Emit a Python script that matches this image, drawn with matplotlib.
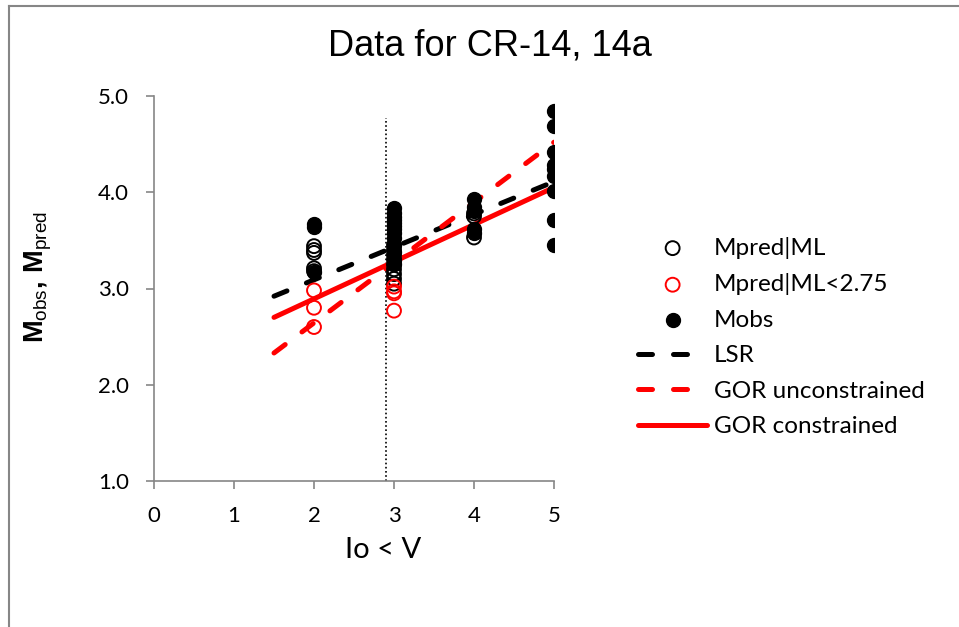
import matplotlib.pyplot as plt
from matplotlib.lines import Line2D

# == Datos ==
x_pred_ml = [2, 2, 2, 2, 2, 3, 3, 3, 3, 3, 3, 3, 3, 3, 4, 4, 4]
y_pred_ml = [3.44, 3.40, 3.37, 3.21, 3.18,
             3.45, 3.40, 3.35, 3.30, 3.25, 3.20, 3.15, 3.10, 3.05,
             3.78, 3.75, 3.53]

x_pred_low = [2, 2, 2, 3, 3, 3, 3]
y_pred_low = [2.98, 2.80, 2.60, 3.02, 2.97, 2.95, 2.77]

x_obs = [2, 2, 2,
         3, 3, 3, 3, 3, 3, 3, 3, 3, 3, 3, 3, 3,
         4, 4, 4, 4, 4,
         5, 5, 5, 5, 5, 5, 5, 5, 5]
y_obs = [3.67, 3.64, 3.17,
         3.84, 3.78, 3.74, 3.71, 3.68, 3.65, 3.62, 3.58, 3.52, 3.45, 3.38, 3.30, 3.25,
         3.93, 3.85, 3.81, 3.62, 3.58,
         4.84, 4.69, 4.42, 4.28, 4.24, 4.17, 4.01, 3.71, 3.45]

# rectas de ajuste (extremos en x = 1.5 y x = 5)
x_fit = [1.5, 5.0]
y_lsr = [2.92, 4.11]
y_gor_unc = [2.33, 4.52]
y_gor_con = [2.70, 4.05]

# línea vertical punteada
x_corte = 2.9
y_corte = [1.0, 4.77]

x_ticks = [0, 1, 2, 3, 4, 5]
y_ticks = [1.0, 2.0, 3.0, 4.0, 5.0]

GRIS = "#868686"
FUENTE = "Lato"

plt.rcParams["mathtext.fontset"] = "custom"
plt.rcParams["mathtext.rm"] = "Liberation Sans"
plt.rcParams["mathtext.bf"] = "Liberation Sans:bold"

fig = plt.figure(figsize=(9.59, 6.27), dpi=100)
ax = fig.add_axes([154 / 959, 1 - 481 / 627, 400 / 959, 385 / 627])

dash = (2.8, 4.2)
ax.plot(x_fit, y_lsr, color="black", lw=3.6, dashes=dash, dash_capstyle="round",
        label="LSR", zorder=3)
ax.plot(x_fit, y_gor_unc, color="red", lw=3.6, dashes=dash, dash_capstyle="round",
        label="GOR unconstrained", zorder=3)
ax.plot(x_fit, y_gor_con, color="red", lw=3.6, solid_capstyle="round",
        label="GOR constrained", zorder=3)

ax.plot([x_corte, x_corte], y_corte, color="black", lw=1.2, ls=(0, (1, 1.5)), zorder=2)

ax.scatter(x_obs, y_obs, s=100, color="black", label="Mobs", zorder=4)
ax.scatter(x_pred_ml, y_pred_ml, s=100, facecolor="none", edgecolor="black",
           linewidth=1.4, label="Mpred|ML", zorder=5)
ax.scatter(x_pred_low, y_pred_low, s=100, facecolor="none", edgecolor="red",
           linewidth=1.4, label="Mpred|ML<2.75", zorder=5)

ax.set_xlim(0, 5)
ax.set_ylim(1, 5)
ax.set_xticks(x_ticks)
ax.set_yticks(y_ticks)
ax.set_xticklabels([str(v) for v in x_ticks], fontfamily=FUENTE, fontsize=16)
ax.set_yticklabels([f"{v:.1f}" for v in y_ticks], fontfamily=FUENTE, fontsize=16)
ax.tick_params(direction="out", length=6, width=1.2, color=GRIS, pad=12)
for lado in ["top", "right"]:
    ax.spines[lado].set_visible(False)
for lado in ["left", "bottom"]:
    ax.spines[lado].set_color(GRIS)
    ax.spines[lado].set_linewidth(1.2)
ax.set_clip_on(False)

ax.set_xlabel("Io < V", fontfamily=FUENTE, fontsize=21, va="top")
ax.xaxis.set_label_coords(0.5725, -0.145)
ax.set_ylabel(r"$\mathbf{M}_{\mathrm{obs}}$$\mathbf{,}$ $\mathbf{M}_{\mathrm{pred}}$",
              fontsize=19.5)
ax.yaxis.set_label_coords(-0.25, 0.53)

fig.text(490 / 959, 1 - 46 / 627, "Data for CR-14, 14a", ha="center", va="center",
         fontfamily="Liberation Sans", fontsize=26)

h, l = ax.get_legend_handles_labels()
orden = ["Mpred|ML", "Mpred|ML<2.75", "Mobs", "LSR", "GOR unconstrained", "GOR constrained"]
h = [h[l.index(k)] for k in orden]
leg = fig.legend(h, orden, loc="center left", bbox_to_anchor=(638 / 959, 1 - 337 / 627),
                 frameon=False, prop={"family": FUENTE, "size": 17.5},
                 handlelength=2.85, handletextpad=0.28, labelspacing=0.6,
                 borderpad=0, borderaxespad=0, scatterpoints=1)

# marco exterior gris del gráfico
fig.add_artist(Line2D([9 / 959, 9 / 959], [0, 1 - 6 / 627], color=GRIS, lw=1.5))
fig.add_artist(Line2D([9 / 959, 1], [1 - 6 / 627, 1 - 6 / 627], color=GRIS, lw=1.5))

fig.savefig("out.png", dpi=100)
